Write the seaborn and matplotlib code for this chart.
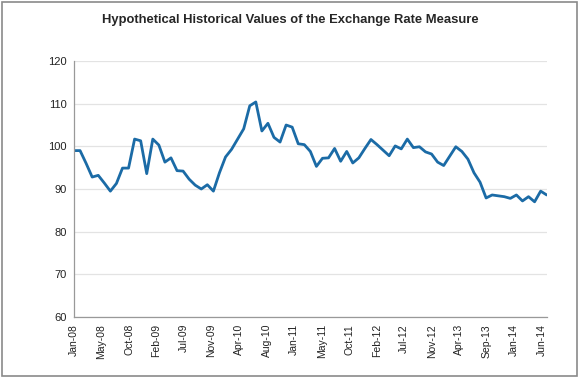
import numpy as np
import pandas as pd
import seaborn as sns
import matplotlib.pyplot as plt

# Valeurs mensuelles (Jan-08 a Jul-14)
months = pd.date_range('2008-01-01', periods=79, freq='MS').strftime('%b-%y').tolist()
values = [
    99.0, 99.0, 96.0, 92.8, 93.2, 91.4, 89.5, 91.3, 94.9, 94.9,
    101.7, 101.3, 93.6, 101.7, 100.3, 96.3, 97.3, 94.3, 94.2, 92.3,
    90.9, 90.0, 91.0, 89.5, 93.8, 97.5, 99.3, 101.7, 104.1, 109.5,
    110.4, 103.6, 105.4, 102.1, 101.0, 105.0, 104.5, 100.6, 100.4, 98.8,
    95.3, 97.2, 97.3, 99.5, 96.5, 98.8, 96.1, 97.3, 99.5, 101.6,
    100.4, 99.1, 97.8, 100.1, 99.4, 101.7, 99.7, 99.9, 98.7, 98.2,
    96.3, 95.5, 97.7, 99.9, 98.8, 97.0, 93.8, 91.6, 87.9, 88.6,
    88.4, 88.2, 87.8, 88.6, 87.2, 88.2, 87.0, 89.5, 88.6,
]
tick_labels = ['Jan-08', 'May-08', 'Oct-08', 'Feb-09', 'Jul-09', 'Nov-09',
               'Apr-10', 'Aug-10', 'Jan-11', 'May-11', 'Oct-11', 'Feb-12',
               'Jul-12', 'Nov-12', 'Apr-13', 'Sep-13', 'Jan-14', 'Jun-14']

df = pd.DataFrame({'month': months, 'idx': range(len(values)), 'value': values})

sns.set_style('white')
plt.rcParams['font.family'] = ['Liberation Sans', 'DejaVu Sans']

fig = plt.figure(figsize=(5.8, 3.78), dpi=100)
ax = fig.add_axes([0.1276, 0.1614, 0.815, 0.6772])

sns.lineplot(data=df, x='idx', y='value', color='#1b6ba6', linewidth=2.0, ax=ax)

ax.set_xlim(0, 78)
ax.set_ylim(60, 120)
ax.set_yticks(range(60, 121, 10))
ax.set_xticks(np.arange(len(tick_labels)) * 4.54)
ax.set_xticklabels(tick_labels, rotation=90, fontsize=7.5, color='#222222')
ax.tick_params(axis='y', labelsize=8, colors='#222222')
ax.tick_params(axis='both', direction='out', length=3, width=0.8, color='#999999', pad=2)
ax.set_xlabel('')
ax.set_ylabel('')

ax.grid(axis='y', color='#e3e3e3', linewidth=0.9)
ax.set_axisbelow(True)
for side in ['top', 'right']:
    ax.spines[side].set_visible(False)
for side in ['left', 'bottom']:
    ax.spines[side].set_color('#999999')
    ax.spines[side].set_linewidth(0.9)

fig.text(0.5, 0.946, 'Hypothetical Historical Values of the Exchange Rate Measure',
         ha='center', va='center', fontsize=9.4, fontweight='bold')

# cadre autour du graphique
fig.add_artist(plt.Rectangle((0.003, 0.004), 0.991, 0.99, transform=fig.transFigure,
                             fill=False, edgecolor='#8a8a8a', linewidth=1.2))

plt.savefig('out.png', dpi=100)
